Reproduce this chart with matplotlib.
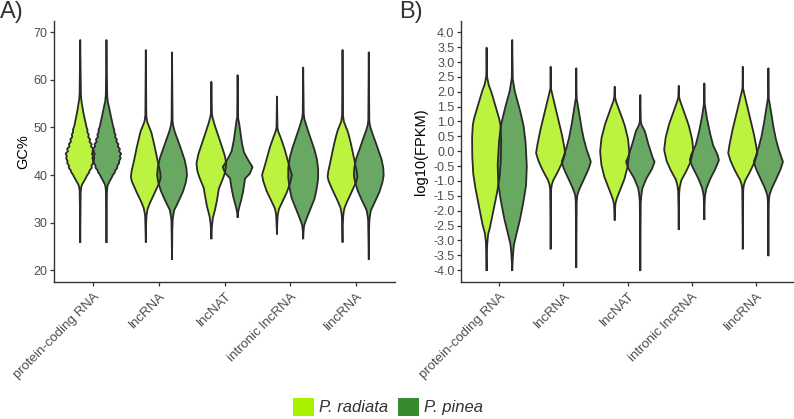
import numpy as np
import matplotlib
matplotlib.use("Agg")
import matplotlib.pyplot as plt
from matplotlib.patches import Patch

plt.rcParams['font.family'] = ['Liberation Sans', 'DejaVu Sans']

categories = ["protein-coding RNA", "lncRNA", "lncNAT", "intronic lncRNA", "lincRNA"]
species = ["P. radiata", "P. pinea"]

# ---- Panel A: GC% violin profiles (y value, relative density) ----
gc_rad_y = [
    [68.4, 57.0, 55.5, 54.5, 53.0, 51.5, 50.0, 49.5, 49.0, 48.5, 48.0, 47.5, 47.0, 46.5, 46.0, 45.5, 45.0, 44.5, 44.0,
     43.5, 43.0, 42.5, 42.0, 41.5, 41.0, 40.5, 40.0, 39.5, 39.0, 38.5, 38.0, 37.5, 36.5, 25.9],
    [66.3, 52.5, 51.2, 49.1, 47.0, 44.9, 42.8, 40.7, 39.6, 38.6, 37.2, 35.8, 34.4, 33.0, 31.6, 30.0, 26.0],
    [59.6, 53.0, 52.3, 50.5, 48.4, 46.3, 44.2, 42.4, 40.7, 39.3, 37.2, 35.1, 33.0, 31.2, 29.5, 26.7],
    [56.5, 50.0, 49.1, 47.7, 45.6, 43.5, 41.4, 40.0, 38.6, 36.5, 34.4, 33.0, 31.6, 30.0, 27.7],
    [66.3, 52.5, 51.2, 49.1, 47.0, 44.9, 42.8, 40.7, 39.6, 38.6, 37.2, 35.8, 34.4, 33.0, 31.6, 30.0, 26.0],
]
gc_rad_d = [
    [0, .04, .08, .14, .22, .32, .42, .50, .46, .58, .52, .68, .60, .78, .70, .90, .80, 1.0, .88,
     .96, .84, .88, .74, .78, .62, .60, .46, .40, .30, .22, .12, .07, .03, 0],
    [0, .03, .09, .36, .52, .67, .80, .96, 1.0, .93, .73, .53, .31, .13, .05, .02, 0],
    [0, .03, .06, .22, .45, .67, .89, 1.0, .93, .78, .50, .40, .27, .11, .04, 0],
    [0, .03, .09, .27, .50, .68, .86, 1.0, .91, .68, .36, .14, .05, .02, 0],
    [0, .03, .09, .36, .53, .68, .81, .96, 1.0, .92, .72, .52, .30, .12, .05, .02, 0],
]
gc_pin_y = [
    [68.4, 57.0, 55.5, 54.5, 53.0, 51.5, 50.0, 49.5, 49.0, 48.5, 48.0, 47.5, 47.0, 46.5, 46.0, 45.5, 45.0, 44.5, 44.0,
     43.5, 43.0, 42.5, 42.0, 41.5, 41.0, 40.5, 40.0, 39.5, 39.0, 38.5, 38.0, 37.5, 36.5, 25.9],
    [65.8, 51.5, 50.5, 49.1, 47.0, 45.0, 43.5, 41.5, 40.0, 38.5, 36.5, 34.4, 32.6, 30.9, 29.0, 22.4],
    [61.0, 52.0, 51.2, 49.1, 47.0, 44.9, 43.5, 42.4, 41.7, 40.3, 39.3, 37.2, 35.1, 33.3, 32.3, 31.2],
    [62.6, 53.0, 51.9, 49.8, 47.7, 45.6, 43.5, 41.4, 39.3, 37.2, 35.1, 33.0, 30.9, 29.5, 28.5, 26.7],
    [65.8, 51.5, 50.5, 49.1, 47.0, 45.0, 43.5, 41.5, 40.0, 38.5, 36.5, 34.4, 32.6, 30.9, 29.0, 22.4],
]
gc_pin_d = [
    [0, .04, .08, .16, .25, .36, .46, .54, .50, .62, .56, .72, .64, .82, .74, .92, .82, 1.0, .88,
     .96, .84, .86, .72, .74, .58, .56, .42, .36, .26, .18, .10, .06, .03, 0],
    [0, .03, .07, .18, .43, .65, .82, .96, 1.0, .93, .73, .43, .14, .05, .02, 0],
    [0, .03, .09, .18, .27, .41, .64, .85, 1.0, .82, .50, .41, .27, .11, .04, 0],
    [0, .03, .07, .27, .50, .73, .91, 1.0, 1.0, .91, .77, .50, .23, .07, .03, 0],
    [0, .03, .07, .20, .45, .66, .84, .97, 1.0, .92, .72, .42, .14, .05, .02, 0],
]

# ---- Panel B: log10(FPKM) violin profiles ----
fp_rad_y = [
    [3.48, 2.55, 2.45, 2.23, 2.0, 1.55, 1.10, 0.88, 0.43, -0.24, -0.80, -1.36, -1.92, -2.49, -2.77, -3.05, -3.3, -4.0],
    [2.84, 2.1, 2.0, 1.67, 1.22, 0.66, 0.21, -0.07, -0.35, -0.69, -0.97, -1.14, -1.3, -3.27],
    [2.17, 1.8, 1.67, 1.33, 0.88, 0.43, -0.02, -0.47, -0.92, -1.25, -1.59, -1.76, -1.95, -2.30],
    [2.20, 1.8, 1.67, 1.33, 0.88, 0.43, 0.04, -0.35, -0.69, -0.97, -1.20, -1.4, -2.62],
    [2.84, 2.1, 2.0, 1.67, 1.22, 0.66, 0.21, -0.07, -0.35, -0.69, -0.97, -1.14, -1.3, -3.27],
]
fp_rad_d = [
    [0, .02, .05, .14, .32, .59, .86, .95, 1.0, .98, .91, .73, .50, .27, .11, .05, .02, 0],
    [0, .02, .07, .23, .45, .73, .91, 1.0, .82, .50, .18, .07, .03, 0],
    [0, .03, .09, .36, .68, .91, 1.0, .91, .68, .41, .14, .05, .02, 0],
    [0, .03, .11, .36, .68, .91, 1.0, .82, .50, .18, .07, .03, 0],
    [0, .02, .07, .23, .45, .73, .91, 1.0, .82, .50, .18, .07, .03, 0],
]
fp_pin_y = [
    [3.74, 2.45, 2.34, 2.0, 1.44, 0.88, 0.32, -0.47, -1.14, -1.70, -2.26, -2.82, -3.16, -3.50, -4.0],
    [2.79, 1.8, 1.67, 1.33, 0.88, 0.43, 0.10, -0.24, -0.35, -0.58, -0.92, -1.25, -1.48, -1.7, -3.89],
    [1.89, 1.0, 0.88, 0.66, 0.32, 0.10, -0.24, -0.35, -0.58, -0.92, -1.25, -1.48, -1.7, -4.0],
    [2.28, 1.6, 1.44, 1.10, 0.66, 0.21, -0.13, -0.30, -0.58, -0.92, -1.25, -1.48, -1.7, -2.28],
    [2.79, 1.8, 1.67, 1.33, 0.88, 0.43, 0.10, -0.24, -0.35, -0.58, -0.92, -1.25, -1.48, -1.7, -3.5],
]
fp_pin_d = [
    [0, .03, .07, .18, .50, .77, .91, 1.0, .95, .77, .55, .27, .11, .05, 0],
    [0, .02, .07, .18, .32, .50, .68, .91, 1.0, .86, .55, .23, .07, .03, 0],
    [0, .03, .09, .32, .50, .64, .86, .98, .82, .41, .14, .07, .03, 0],
    [0, .02, .07, .18, .36, .59, .91, 1.0, .77, .41, .14, .05, .02, 0],
    [0, .02, .07, .18, .32, .50, .68, .91, 1.0, .86, .55, .23, .07, .03, 0],
]

gc_ticks = [20, 30, 40, 50, 60, 70]
fp_ticks = [-4.0, -3.5, -3.0, -2.5, -2.0, -1.5, -1.0, -0.5, 0.0, 0.5, 1.0, 1.5, 2.0, 2.5, 3.0, 3.5, 4.0]

# ---- styling ----
col_rad = '#a6f000'
col_pin = '#378b2e'
fill_alpha = 0.75
edge = '#2a2a2a'
tick_col = '#4d4d4d'
spine_col = '#333333'
DODGE = 0.2
HALFW = 0.228


def draw_violin(ax, center, ys, ds, color):
    ys = np.asarray(ys, float)[::-1]
    ds = np.asarray(ds, float)[::-1]
    grid = np.linspace(ys[0], ys[-1], 800)
    dens = np.interp(grid, ys, ds)
    k = np.exp(-0.5 * (np.arange(-6, 7) / 2.0) ** 2)
    k /= k.sum()
    padded = np.concatenate([np.zeros(6), dens, np.zeros(6)])
    dens = np.convolve(padded, k, mode='same')[6:-6]
    dens[0] = 0
    dens[-1] = 0
    half = dens * HALFW
    xs = np.concatenate([center - half, (center + half)[::-1]])
    yy = np.concatenate([grid, grid[::-1]])
    ax.fill(xs, yy, facecolor=color, alpha=fill_alpha, edgecolor='none', zorder=2)
    ax.plot(xs, yy, color=edge, lw=1.3, zorder=3, solid_joinstyle='round')


def style_axis(ax):
    for s in ['top', 'right']:
        ax.spines[s].set_visible(False)
    for s in ['left', 'bottom']:
        ax.spines[s].set_color(spine_col)
        ax.spines[s].set_linewidth(1.0)
    ax.tick_params(axis='both', direction='out', length=3.2, width=0.9, color=spine_col,
                   labelcolor=tick_col, labelsize=9, pad=1.5)
    ax.set_xlim(0.4, 5.6)
    ax.set_xticks(range(1, len(categories) + 1))
    ax.set_xticklabels(categories, rotation=45, ha='right', va='top', rotation_mode='anchor',
                       fontsize=9.5, color=tick_col)
    ax.tick_params(axis='x', pad=3)


fig = plt.figure(figsize=(7.94, 4.19), dpi=100)
axA = fig.add_axes([54 / 794, 1 - 282 / 419, 341 / 794, 261 / 419])
axB = fig.add_axes([461 / 794, 1 - 282 / 419, 333 / 794, 261 / 419])

for i in range(len(categories)):
    draw_violin(axA, i + 1 - DODGE, gc_rad_y[i], gc_rad_d[i], col_rad)
    draw_violin(axA, i + 1 + DODGE, gc_pin_y[i], gc_pin_d[i], col_pin)
    draw_violin(axB, i + 1 - DODGE, fp_rad_y[i], fp_rad_d[i], col_rad)
    draw_violin(axB, i + 1 + DODGE, fp_pin_y[i], fp_pin_d[i], col_pin)

style_axis(axA)
style_axis(axB)

axA.set_ylim(17.5, 72.4)
axA.set_yticks(gc_ticks)
axA.set_yticklabels([str(t) for t in gc_ticks])
axA.set_ylabel('GC%', fontsize=10.5, color='black')
axA.yaxis.set_label_coords(-0.07, 0.5)

axB.set_ylim(-4.4, 4.38)
axB.set_yticks(fp_ticks)
axB.set_yticklabels([f'{t:.1f}' for t in fp_ticks])
axB.set_ylabel('log10(FPKM)', fontsize=10.5, color='black')
axB.yaxis.set_label_coords(-0.1, 0.5)

fig.text(0 / 794, 1 - 1 / 419, 'A)', fontsize=17, color='#333333', va='top', ha='left')
fig.text(399 / 794, 1 - 1 / 419, 'B)', fontsize=17, color='#333333', va='top', ha='left')

handles = [Patch(facecolor=col_rad, edgecolor='none', label=species[0]),
           Patch(facecolor=col_pin, edgecolor='none', label=species[1])]
leg = fig.legend(handles=handles, loc='lower center', bbox_to_anchor=(0.489, 0.0), ncol=2,
                 frameon=False, prop={'style': 'italic', 'size': 12},
                 handlelength=1.25, handleheight=1.25, handletextpad=0.3, columnspacing=0.6,
                 borderaxespad=0.1, borderpad=0.1)
for t in leg.get_texts():
    t.set_color('#333333')

fig.savefig('out.png', dpi=100)
